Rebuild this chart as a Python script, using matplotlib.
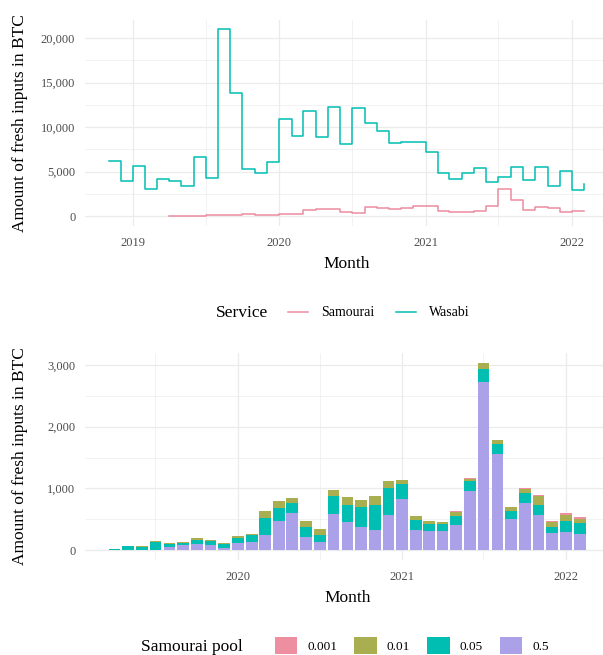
import matplotlib
matplotlib.use("Agg")
from matplotlib import pyplot as plt
import matplotlib.dates as mdates
from matplotlib.lines import Line2D
from matplotlib.patches import Patch
from matplotlib.ticker import FuncFormatter, MultipleLocator
import pandas as pd

plt.rcParams["font.family"] = ["Liberation Serif", "DejaVu Serif"]

# monthly fresh inputs (BTC)
wasabi_months = pd.date_range("2018-11-01", "2022-02-01", freq="MS")
wasabi = [6200, 4000, 5650, 3050, 4150, 3950, 3400, 6650, 4300, 21000, 13900, 5300, 4900, 6050,
          10900, 9000, 11800, 8900, 12300, 8100, 12200, 10500, 9600, 8250, 8300, 8300,
          7200, 4900, 4200, 4850, 5450, 3800, 4350, 5500, 4050, 5550, 3350, 5050,
          2950, 3650]

samourai_months = pd.date_range("2019-04-01", "2022-02-01", freq="MS")
samourai = [20, 55, 65, 140, 115, 130, 190, 155, 110,
            220, 270, 640, 800, 850, 480, 350, 980, 870, 820, 885, 1130,
            1145, 545, 480, 465, 625, 1175, 3040, 1790, 705, 1015, 900, 465,
            595, 530]

# Samourai split by pool
pool_05 = [0, 0, 0, 0, 43, 75, 92, 75, 27,
           108, 124, 237, 480, 609, 205, 124, 593, 448, 367, 318, 577,
           836, 334, 302, 302, 415, 966, 2729, 1564, 512, 771, 577, 270,
           286, 254]
pool_005 = [12, 60, 48, 124, 49, 38, 65, 65, 65,
            81, 113, 291, 210, 162, 162, 113, 291, 291, 324, 421, 437,
            243, 162, 129, 129, 146, 162, 210, 162, 129, 162, 162, 97,
            194, 178]
pool_001 = [0, 0, 16, 16, 22, 16, 32, 16, 16,
            32, 32, 113, 113, 81, 113, 113, 97, 129, 129, 146, 113,
            65, 49, 49, 32, 49, 32, 97, 65, 65, 65, 146, 81,
            92, 76]
pool_0001 = [0, 0, 0, 0, 0, 0, 0, 0, 0,
             0, 0, 0, 0, 0, 0, 0, 0, 0, 0, 0, 0,
             0, 0, 0, 0, 16, 16, 0, 0, 0, 16, 16, 16,
             22, 22]

pool_labels = ["0.001", "0.01", "0.05", "0.5"]
pool_colors = ["#EE8FA1", "#A9AF50", "#00BFB2", "#ABA1E9"]
service_colors = {"Samourai": "#EC8C9E", "Wasabi": "#00BFB2"}

W, H = 603, 655
fig = plt.figure(figsize=(W / 100, H / 100), dpi=100)


def px_axes(left, top, right, bottom):
    return fig.add_axes([left / W, 1 - bottom / H, (right - left) / W, (bottom - top) / H])


def style(ax, ymajor, yminor, width_px):
    ax.set_facecolor("white")
    for s in ax.spines.values():
        s.set_visible(False)
    ax.xaxis.set_major_locator(mdates.YearLocator())
    ax.xaxis.set_minor_locator(mdates.MonthLocator(bymonth=7))
    ax.xaxis.set_major_formatter(mdates.DateFormatter("%Y"))
    ax.yaxis.set_major_locator(MultipleLocator(ymajor))
    ax.yaxis.set_minor_locator(MultipleLocator(yminor))
    ax.yaxis.set_major_formatter(FuncFormatter(lambda v, p: f"{v:,.0f}"))
    ax.grid(True, which="major", color="#EBEBEB", linewidth=0.9)
    ax.grid(True, which="minor", color="#EBEBEB", linewidth=0.45)
    ax.set_axisbelow(True)
    ax.tick_params(which="both", length=0, labelsize=9, labelcolor="#4D4D4D")
    ax.tick_params(axis="y", pad=7)
    ax.tick_params(axis="x", pad=8)
    ax.set_xlabel("Month", fontsize=12.5, labelpad=5)
    ax.set_ylabel("Amount of fresh inputs in BTC", fontsize=12.5)
    # both y titles sit at the same x in the reference
    ax.yaxis.set_label_coords((28 - 85) / width_px, 0.5)


# top: step lines per service
ax1 = px_axes(85, 20, 608, 225.5)
ax1.step(samourai_months, samourai, where="post", color=service_colors["Samourai"], linewidth=1.1)
ax1.step(wasabi_months, wasabi, where="post", color=service_colors["Wasabi"], linewidth=1.1)
ax1.set_xlim(pd.Timestamp("2018-09-03"), pd.Timestamp("2022-04-01"))
ax1.set_ylim(-1050, 22050)
style(ax1, 5000, 2500, 523)

# bottom: stacked bars per pool
ax2 = px_axes(85, 353.4, 610, 559.5)
bw = 26
bottom = [0] * len(samourai_months)
for vals, col in [(pool_05, pool_colors[3]), (pool_005, pool_colors[2]),
                  (pool_001, pool_colors[1]), (pool_0001, pool_colors[0])]:
    ax2.bar(samourai_months, vals, width=bw, bottom=bottom, color=col, linewidth=0)
    bottom = [b + v for b, v in zip(bottom, vals)]
ax2.set_xlim(pd.Timestamp("2019-01-25"), pd.Timestamp("2022-04-09"))
ax2.set_ylim(-152, 3188)
style(ax2, 1000, 500, 525)

# legends below each panel
fig.text(216 / W, 1 - 313 / H, "Service", fontsize=12.5, ha="left", va="center")
h1 = [Line2D([], [], color=service_colors[k], linewidth=1.1) for k in ["Samourai", "Wasabi"]]
fig.legend(h1, ["Samourai", "Wasabi"], loc="center left", bbox_to_anchor=(288 / W, 1 - 313 / H),
           ncol=2, frameon=False, fontsize=10, handlelength=1.45, handletextpad=0.9,
           columnspacing=1.6, borderpad=0, borderaxespad=0)

fig.text(141 / W, 1 - 647 / H, "Samourai pool", fontsize=12.5, ha="left", va="center")
h2 = [Patch(facecolor=c, linewidth=0) for c in pool_colors]
fig.legend(h2, pool_labels, loc="center left", bbox_to_anchor=(275 / W, 1 - 645.5 / H),
           ncol=4, frameon=False, fontsize=9.5, handlelength=1.7, handleheight=1.7,
           handletextpad=0.75, columnspacing=1.3, borderpad=0, borderaxespad=0)

fig.savefig("out.png", dpi=100, facecolor="white")
